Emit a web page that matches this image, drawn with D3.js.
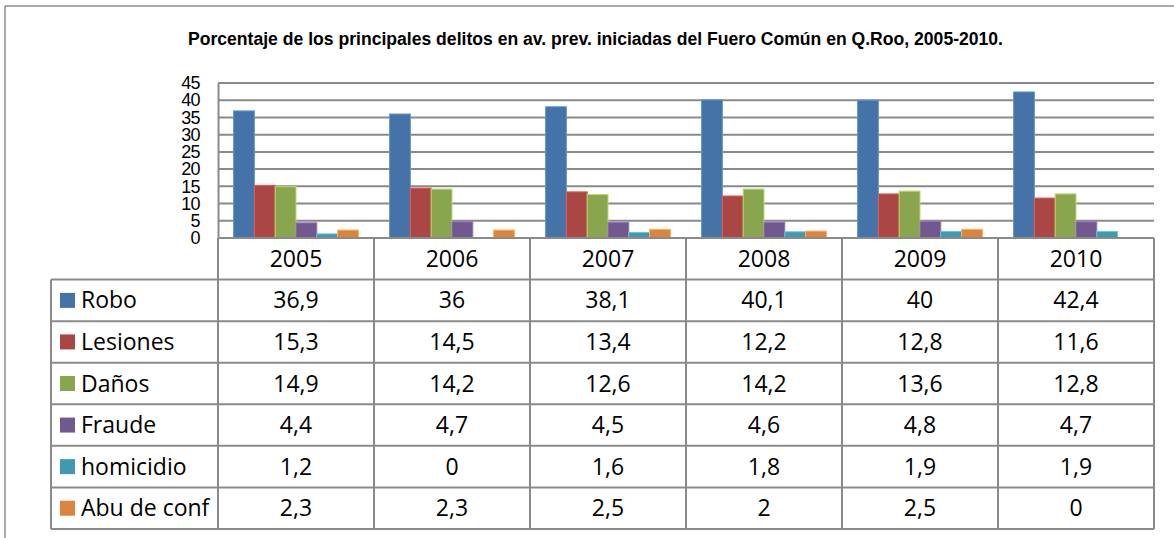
<!DOCTYPE html>
<html>
<head>
<meta charset="utf-8">
<script src="https://cdn.jsdelivr.net/npm/d3@7"></script>
<style>
  html, body { margin: 0; padding: 0; background: #fff; }
  svg { display: block; }
</style>
</head>
<body>
<svg id="chart" width="1174" height="538"></svg>
<script>
// ---- data ----
const years = ["2005", "2006", "2007", "2008", "2009", "2010"];
const seriesNames = ["Robo", "Lesiones", "Daños", "Fraude", "homicidio", "Abu de conf"];
const robo      = [36.9, 36, 38.1, 40.1, 40, 42.4];
const lesiones  = [15.3, 14.5, 13.4, 12.2, 12.8, 11.6];
const danos     = [14.9, 14.2, 12.6, 14.2, 13.6, 12.8];
const fraude    = [4.4, 4.7, 4.5, 4.6, 4.8, 4.7];
const homicidio = [1.2, 0, 1.6, 1.8, 1.9, 1.9];
const abuConf   = [2.3, 2.3, 2.5, 2, 2.5, 0];
const yTicks = [0, 5, 10, 15, 20, 25, 30, 35, 40, 45];
const titleText = "Porcentaje de los principales delitos en av. prev. iniciadas del Fuero Común en Q.Roo, 2005-2010.";

const seriesValues = [robo, lesiones, danos, fraude, homicidio, abuConf];
const colors = ["#4572A7", "#AA4643", "#89A54E", "#71588F", "#4198AF", "#DB843D"];
const seriesData = seriesNames.map((n, i) => ({ name: n, values: seriesValues[i], color: colors[i] }));

const svg = d3.select("#chart");
const gridColor = "#8a8a8a";

// outer frame (top and left edges visible)
svg.append("line").attr("x1", 5).attr("x2", 1174).attr("y1", 6).attr("y2", 6)
  .attr("stroke", "#8c8c8c").attr("stroke-width", 1.5);
svg.append("line").attr("x1", 5).attr("x2", 5).attr("y1", 6).attr("y2", 538)
  .attr("stroke", "#8c8c8c").attr("stroke-width", 1.5);

// title
svg.append("text")
  .attr("x", 188).attr("y", 45)
  .attr("textLength", 815).attr("lengthAdjust", "spacingAndGlyphs")
  .style("font-family", "'Liberation Sans', Arial, sans-serif")
  .style("font-weight", "bold").style("font-size", "18px").attr("fill", "#000")
  .text(titleText);

// scales
const plotLeft = 218, plotRight = 1154, plotTop = 83, plotBottom = 238;
const x = d3.scaleBand().domain(years).range([plotLeft, plotRight]).paddingInner(0).paddingOuter(0);
const xs = d3.scaleBand().domain(seriesNames).range([0, x.bandwidth()]).paddingInner(0).paddingOuter(0.75);
const y = d3.scaleLinear().domain([0, 45]).range([plotBottom, plotTop]);

// gridlines
svg.append("g").selectAll("line").data(yTicks.filter(t => t > 0)).join("line")
  .attr("x1", plotLeft).attr("x2", plotRight)
  .attr("y1", d => y(d)).attr("y2", d => y(d))
  .attr("stroke", gridColor).attr("stroke-width", 2);

// y axis
const yAxis = svg.append("g").attr("transform", `translate(${plotLeft},0)`)
  .call(d3.axisLeft(y).tickValues(yTicks).tickSize(0).tickPadding(18));
yAxis.select(".domain").attr("stroke", gridColor).attr("stroke-width", 2);
yAxis.selectAll("text")
  .style("font-family", "'Liberation Sans', Arial, sans-serif")
  .style("font-size", "18px").style("letter-spacing", "-0.6px").attr("fill", "#000");

// bars
const groups = svg.append("g").selectAll("g").data(years).join("g")
  .attr("transform", d => `translate(${x(d)},0)`);
groups.selectAll("rect")
  .data((yr, yi) => seriesData.map(s => ({ name: s.name, v: s.values[yi], color: s.color })))
  .join("rect")
  .attr("x", d => xs(d.name))
  .attr("width", xs.bandwidth())
  .attr("y", d => y(d.v))
  .attr("height", d => y(0) - y(d.v))
  .attr("fill", d => d.color)
  .attr("stroke", d => d.v > 0 ? d3.color(d.color).brighter(0.8) : "none")
  .attr("stroke-width", 1);

// data table
const rowKeys = ["header"].concat(seriesNames);
const rows = d3.scaleBand().domain(rowKeys).range([plotBottom, 529]);
const tableLeft = 51;
const tbl = svg.append("g");
const lineAttrs = sel => sel.attr("stroke", gridColor).attr("stroke-width", 2);

// horizontal lines
tbl.append("line").attr("x1", plotLeft).attr("x2", plotRight).attr("y1", plotBottom).attr("y2", plotBottom).call(lineAttrs);
tbl.selectAll("line.h").data(seriesNames.map(n => rows(n)).concat([rows.range()[1]])).join("line")
  .attr("class", "h")
  .attr("x1", tableLeft).attr("x2", plotRight)
  .attr("y1", d => d).attr("y2", d => d).call(lineAttrs);
// vertical lines
tbl.selectAll("line.v").data(years.map(yr => x(yr)).concat([plotRight])).join("line")
  .attr("class", "v")
  .attr("x1", d => d).attr("x2", d => d)
  .attr("y1", plotBottom).attr("y2", rows.range()[1]).call(lineAttrs);
tbl.append("line").attr("x1", tableLeft).attr("x2", tableLeft)
  .attr("y1", rows(seriesNames[0])).attr("y2", rows.range()[1]).call(lineAttrs);

const tableFont = "'Open Sans', 'Noto Sans', sans-serif";
const rowH = rows.bandwidth();
// header years
tbl.selectAll("text.yr").data(years).join("text")
  .attr("class", "yr")
  .attr("x", d => x(d) + x.bandwidth() / 2)
  .attr("y", rows("header") + rowH / 2 + 8)
  .attr("text-anchor", "middle")
  .style("font-family", tableFont).style("font-size", "23px").attr("fill", "#000")
  .text(d => d);

// legend cells
const leg = tbl.selectAll("g.leg").data(seriesData).join("g").attr("class", "leg");
leg.append("rect")
  .attr("x", 60).attr("y", d => rows(d.name) + rowH / 2 - 7.5)
  .attr("width", 15).attr("height", 15).attr("fill", d => d.color);
leg.append("text")
  .attr("x", 81).attr("y", d => rows(d.name) + rowH / 2 + 8)
  .style("font-family", tableFont).style("font-size", "23px").attr("fill", "#000")
  .text(d => d.name);

// values
const fmt = v => String(v).replace(".", ",");
seriesData.forEach(s => {
  tbl.selectAll(null).data(s.values).join("text")
    .attr("x", (d, i) => x(years[i]) + x.bandwidth() / 2)
    .attr("y", rows(s.name) + rowH / 2 + 8)
    .attr("text-anchor", "middle")
    .style("font-family", tableFont).style("font-size", "23px").attr("fill", "#000")
    .text(d => fmt(d));
});
</script>
</body>
</html>
